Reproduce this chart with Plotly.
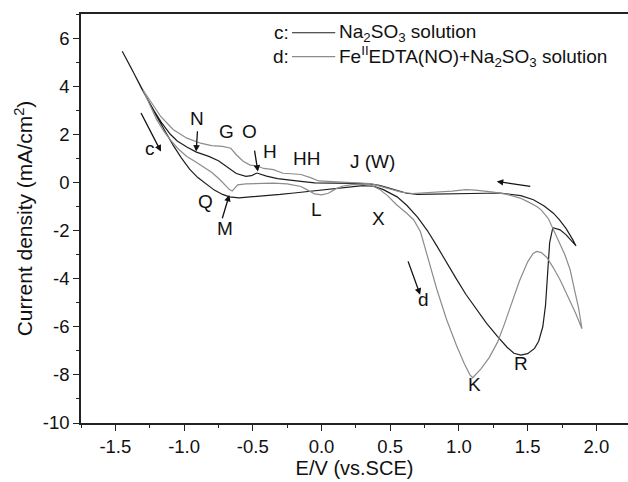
import plotly.graph_objects as go

# ---- data ----
# curve c: Na2SO3 solution (black), closed loop: forward then reverse
E_c = [-1.45, -1.38, -1.30, -1.20, -1.14, -1.08, -1.02, -0.96, -0.90, -0.84, -0.78, -0.72,
       -0.67, -0.60, -0.50, -0.40, -0.30, -0.20, -0.10, 0.00, 0.10, 0.20, 0.30, 0.38,
       0.45, 0.55, 0.62, 0.70, 0.77, 0.84, 0.91, 0.98, 1.05, 1.13, 1.20, 1.28, 1.35,
       1.40, 1.45, 1.50, 1.55, 1.58, 1.61, 1.63, 1.64, 1.65, 1.66, 1.683, 1.736,
       1.78, 1.82, 1.852,
       1.83, 1.78, 1.73, 1.687, 1.62, 1.542, 1.45, 1.30, 1.20, 1.10, 1.00, 0.90,
       0.80, 0.70, 0.62, 0.55, 0.48, 0.42, 0.35, 0.25, 0.15, 0.05, -0.05, -0.15, -0.25,
       -0.32, -0.40, -0.47, -0.51, -0.55, -0.62, -0.69, -0.75, -0.82, -0.91, -0.98,
       -1.05, -1.10, -1.16, -1.22, -1.30, -1.38, -1.45]
J_c = [5.45, 4.70, 3.78, 2.75, 2.15, 1.55, 1.02, 0.55, 0.20, -0.08, -0.32, -0.50,
       -0.60, -0.64, -0.60, -0.55, -0.50, -0.44, -0.38, -0.32, -0.24, -0.17, -0.13, -0.16,
       -0.30, -0.60, -0.95, -1.45, -2.00, -2.65, -3.35, -4.00, -4.65, -5.30, -5.85, -6.40, -6.85,
       -7.10, -7.18, -7.12, -6.90, -6.60, -6.00, -5.10, -4.20, -3.20, -2.50, -1.88, -1.97,
       -2.18, -2.45, -2.64,
       -2.40, -1.92, -1.55, -1.28, -0.98, -0.72, -0.55, -0.44, -0.45, -0.46, -0.47, -0.48,
       -0.50, -0.50, -0.45, -0.35, -0.22, -0.12, -0.06, -0.04, -0.04, -0.04, -0.02, 0.04, 0.10,
       0.16, 0.26, 0.39, 0.28, 0.25, 0.37, 0.65, 0.90, 1.08, 1.26, 1.47,
       1.72, 2.00, 2.45, 3.00, 3.80, 4.70, 5.45]

# curve d: FeIIEDTA(NO)+Na2SO3 solution (grey)
E_d = [-1.30, -1.25, -1.20, -1.15, -1.10, -1.04, -0.98, -0.92, -0.86, -0.80, -0.74, -0.70,
       -0.67, -0.65, -0.63, -0.61, -0.55, -0.45, -0.35, -0.25, -0.15, -0.10, -0.05, 0.00,
       0.05, 0.10, 0.15, 0.22, 0.30, 0.36, 0.42, 0.48, 0.55, 0.62, 0.67, 0.72, 0.77, 0.84,
       0.91, 0.98, 1.04, 1.08, 1.10, 1.12, 1.16, 1.22, 1.28, 1.33, 1.38, 1.44, 1.50, 1.54,
       1.566, 1.60, 1.64, 1.687, 1.74, 1.80, 1.85, 1.895,
       1.87, 1.84, 1.809, 1.77, 1.72, 1.683, 1.65, 1.60, 1.566, 1.50, 1.445, 1.35, 1.25, 1.12, 1.05,
       0.95, 0.85, 0.75, 0.66, 0.58, 0.50, 0.43, 0.36, 0.25, 0.15, 0.05, -0.02, -0.08,
       -0.15, -0.22, -0.28, -0.35, -0.42, -0.47, -0.52, -0.57, -0.62, -0.66, -0.72, -0.80,
       -0.88, -0.98, -1.08, -1.17, -1.24, -1.30]
J_d = [3.85, 3.20, 2.62, 2.15, 1.77, 1.38, 1.08, 0.87, 0.66, 0.42, 0.12, -0.12,
       -0.30, -0.36, -0.22, -0.10, -0.06, -0.04, -0.03, -0.06, -0.17, -0.32, -0.48, -0.52,
       -0.45, -0.28, -0.16, -0.09, -0.08, -0.12, -0.28, -0.55, -0.95, -1.28, -1.55, -2.05, -3.10, -4.46,
       -5.70, -6.75, -7.55, -8.00, -8.12, -8.00, -7.75, -7.28, -6.65, -5.90, -5.10, -4.10, -3.30, -2.95,
       -2.87, -2.92, -3.12, -3.55, -4.10, -4.80, -5.45, -6.08,
       -5.20, -4.45, -3.63, -3.00, -2.40, -1.95, -1.50, -1.15, -1.00, -0.80, -0.65, -0.50, -0.40, -0.32, -0.30,
       -0.36, -0.40, -0.42, -0.46, -0.40, -0.28, -0.15, -0.05, -0.02, 0.00, 0.02, 0.06, 0.20,
       0.33, 0.36, 0.38, 0.53, 0.58, 0.68, 0.72, 0.88, 1.15, 1.42, 1.50, 1.53,
       1.63, 1.84, 2.20, 2.74, 3.35, 3.85]

x_tickvals = [-1.5, -1.0, -0.5, 0.0, 0.5, 1.0, 1.5, 2.0]
x_ticktext = ["-1.5", "-1.0", "-0.5", "0.0", "0.5", "1.0", "1.5", "2.0"]
y_tickvals = [6, 4, 2, 0, -2, -4, -6, -8, -10]
y_ticktext = ["6", "4", "2", "0", "-2", "-4", "-6", "-8", "-10"]

# point labels: text, E, j
lab_text = ["N", "G", "O", "H", "HH", "J (W)", "Q", "M", "L", "X", "K", "R", "c", "d"]
lab_E = [-0.906, -0.688, -0.524, -0.378, -0.106, 0.37, -0.846, -0.70, -0.034, 0.415, 1.11, 1.45, -1.246, 0.742]
lab_J = [2.67, 2.12, 2.12, 1.28, 1.01, 0.87, -0.79, -1.90, -1.14, -1.48, -8.41, -7.51, 1.43, -4.88]

# arrows: tail (E, j) -> head (E, j)
arr_tail_E = [-1.319, -0.902, -0.489, -0.725, 0.626, 1.53]
arr_tail_J = [2.95, 2.19, 1.38, -1.55, -3.22, -0.17]
arr_head_E = [-1.168, -0.912, -0.463, -0.671, 0.718, 1.275]
arr_head_J = [1.28, 1.28, 0.45, -0.52, -4.67, 0.04]

BLACK = "#1e1e1e"
GREY = "#8c8c8c"
FONT = "Liberation Sans, Arial, sans-serif"

fig = go.Figure()
fig.add_trace(go.Scatter(x=E_c, y=J_c, mode="lines", line=dict(color=BLACK, width=1.2),
                         showlegend=False, hoverinfo="skip"))
fig.add_trace(go.Scatter(x=E_d, y=J_d, mode="lines", line=dict(color=GREY, width=1.2),
                         showlegend=False, hoverinfo="skip"))

anns = []
for t, ex, jy in zip(lab_text, lab_E, lab_J):
    anns.append(dict(x=ex, y=jy, xref="x", yref="y", text=t, showarrow=False,
                     font=dict(family=FONT, size=19, color="#111")))
for tx, ty, hx, hy in zip(arr_tail_E, arr_tail_J, arr_head_E, arr_head_J):
    anns.append(dict(x=hx, y=hy, ax=tx, ay=ty, xref="x", yref="y", axref="x", ayref="y",
                     text="", showarrow=True, arrowhead=2, arrowsize=1.0, arrowwidth=1.3,
                     arrowcolor="#111", standoff=0, startstandoff=0))

# legend drawn as text + line samples
leg_rows_y = [6.22, 5.23]
leg_keys = ["c:", "d:"]
leg_labels = ["Na<sub>2</sub>SO<sub>3</sub> solution",
              "Fe<sup>II</sup>EDTA(NO)+Na<sub>2</sub>SO<sub>3</sub> solution"]
leg_colors = [BLACK, GREY]
shapes = []
for ry, k, lbl, col in zip(leg_rows_y, leg_keys, leg_labels, leg_colors):
    anns.append(dict(x=-0.22, y=ry, xref="x", yref="y", text=k, showarrow=False,
                     xanchor="right", font=dict(family=FONT, size=19, color="#111")))
    anns.append(dict(x=0.115, y=ry, xref="x", yref="y", text=lbl, showarrow=False,
                     xanchor="left", font=dict(family=FONT, size=19, color="#111")))
    shapes.append(dict(type="line", xref="x", yref="y", x0=-0.215, x1=0.10, y0=ry, y1=ry,
                       line=dict(color=col, width=1.2)))

fig.update_layout(
    width=628, height=482,
    margin=dict(l=81, r=0, t=14, b=59),
    paper_bgcolor="white", plot_bgcolor="white",
    font=dict(family=FONT, size=18, color="#111"),
    annotations=anns, shapes=shapes,
    xaxis=dict(range=[-1.75, 2.23], tickmode="array", tickvals=x_tickvals, ticktext=x_ticktext,
               ticks="outside", ticklen=6, tickwidth=1.3, tickcolor="#222",
               minor=dict(tickmode="linear", tick0=0, dtick=0.25, ticks="outside", ticklen=3,
                          tickwidth=1.3, tickcolor="#222"),
               showline=True, linecolor="#222", linewidth=1.5, mirror=True,
               showgrid=False, zeroline=False,
               tickfont=dict(size=18.5),
               title=dict(text="E/V (vs.SCE)", font=dict(size=20), standoff=4)),
    yaxis=dict(range=[-10, 7], tickmode="array", tickvals=y_tickvals, ticktext=y_ticktext,
               ticks="outside", ticklen=6, tickwidth=1.3, tickcolor="#222",
               minor=dict(tickmode="linear", tick0=0, dtick=1, ticks="outside", ticklen=3,
                          tickwidth=1.3, tickcolor="#222"),
               showline=True, linecolor="#222", linewidth=1.5, mirror=False,
               showgrid=False, zeroline=False,
               tickfont=dict(size=18.5),
               title=dict(text="Current density (mA/cm<sup>2</sup>)", font=dict(size=21), standoff=4)),
)

fig.write_html("out.html", config={"displayModeBar": False},
               post_script="document.body.style.margin='0px';")
